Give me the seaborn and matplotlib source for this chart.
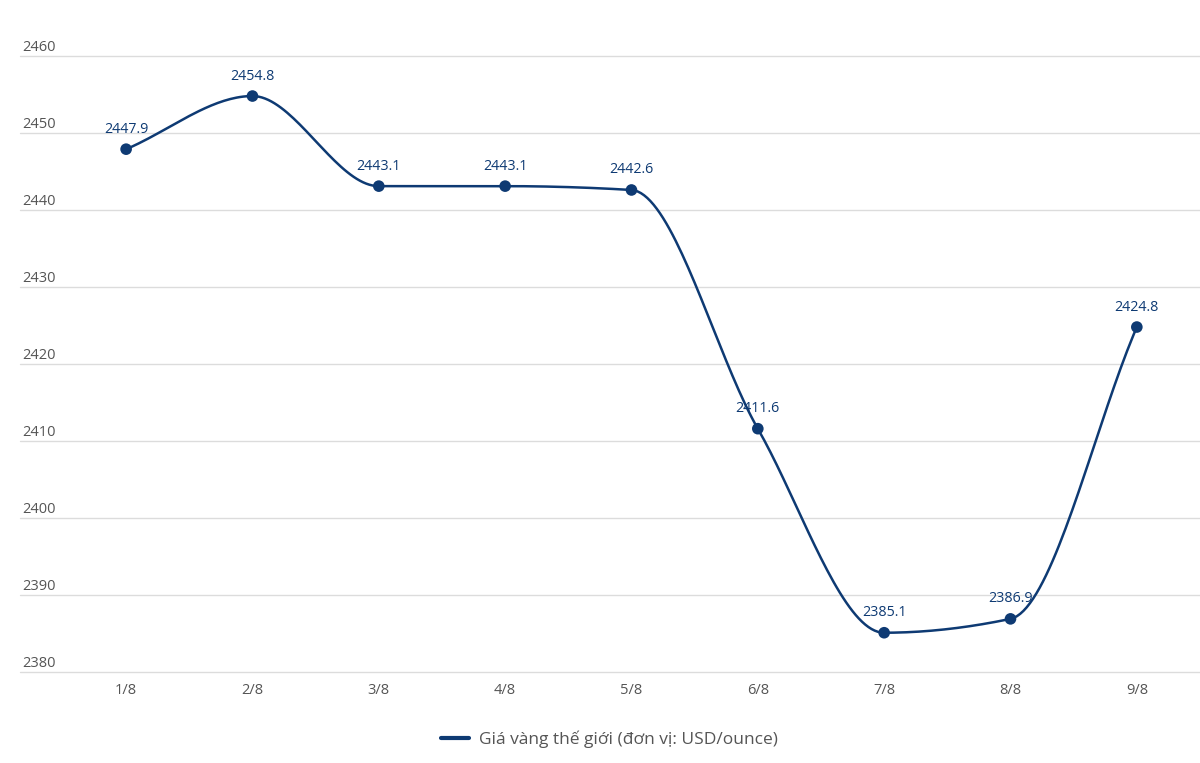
import numpy as np
import matplotlib
matplotlib.use("Agg")
import matplotlib.pyplot as plt
import matplotlib.transforms as mtransforms
import seaborn as sns

# Data
dates = ["1/8", "2/8", "3/8", "4/8", "5/8", "6/8", "7/8", "8/8", "9/8"]
prices = [2447.9, 2454.8, 2443.1, 2443.1, 2442.6, 2411.6, 2385.1, 2386.9, 2424.8]
yticks = [2380, 2390, 2400, 2410, 2420, 2430, 2440, 2450, 2460]
legend_label = "Giá vàng thế giới (đơn vị: USD/ounce)"

navy = "#0e3a73"
grid_col = "#dcdcdc"
text_col = "#555555"

sns.set_theme(style="white")
plt.rcParams["font.family"] = ["Open Sans", "DejaVu Sans"]


def monotone_curve(x, y, n=40):
    # Fritsch-Carlson monotone cubic, just for drawing the smoothed line
    x = np.asarray(x, float)
    y = np.asarray(y, float)
    h = np.diff(x)
    d = np.diff(y) / h
    m = np.zeros_like(y)
    m[0], m[-1] = d[0], d[-1]
    for i in range(1, len(y) - 1):
        if d[i - 1] * d[i] <= 0:
            m[i] = 0
        else:
            w1 = 2 * h[i] + h[i - 1]
            w2 = h[i] + 2 * h[i - 1]
            m[i] = (w1 + w2) / (w1 / d[i - 1] + w2 / d[i])
    xs, ys = [], []
    for i in range(len(x) - 1):
        t = np.linspace(0, 1, n, endpoint=(i == len(x) - 2))
        h00 = 2 * t**3 - 3 * t**2 + 1
        h10 = t**3 - 2 * t**2 + t
        h01 = -2 * t**3 + 3 * t**2
        h11 = t**3 - t**2
        xs.append(x[i] + t * h[i])
        ys.append(h00 * y[i] + h10 * h[i] * m[i] + h01 * y[i + 1] + h11 * h[i] * m[i + 1])
    return np.concatenate(xs), np.concatenate(ys)


fig = plt.figure(figsize=(12, 7.63), dpi=100)
ax = fig.add_axes([20 / 1200, 1 - 672 / 763, 1180 / 1200, (672 - 56) / 763])

pos = np.arange(len(dates))
cx, cy = monotone_curve(pos, prices)
ax.plot(cx, cy, color=navy, lw=1.8, zorder=3)
sns.scatterplot(x=pos, y=prices, color=navy, s=70, edgecolor="none", zorder=4, ax=ax, legend=False)

for xi, v in zip(pos, prices):
    ax.annotate(f"{v:.1f}", (xi, v), xytext=(0, 9), textcoords="offset points",
                ha="center", va="bottom", fontsize=10.3, color=navy)

ax.set_xlim(-0.84, 8.5)
ax.set_ylim(2380, 2460)
for t in yticks:
    ax.axhline(t, color=grid_col, lw=1, zorder=1, clip_on=False)

trans = mtransforms.blended_transform_factory(ax.transAxes, ax.transData)
for t in yticks:
    ax.annotate(str(t), (0.002, t), xycoords=trans, xytext=(0, 1), textcoords="offset points",
                ha="left", va="bottom", fontsize=10.5, color=text_col)

ax.set_yticks([])
ax.set_xticks(pos)
ax.set_xticklabels(dates, fontsize=10.5, color=text_col)
ax.tick_params(axis="x", length=0, pad=8)
for s in ax.spines.values():
    s.set_visible(False)

# legend
fig.legend(handles=[plt.Line2D([], [], color=navy, lw=3)], labels=[legend_label],
           loc="center", bbox_to_anchor=(0.508, 1 - 739 / 763), frameon=False,
           fontsize=12.5, labelcolor=text_col, handlelength=1.6, handletextpad=0.6)

fig.savefig("out.png", dpi=100)
